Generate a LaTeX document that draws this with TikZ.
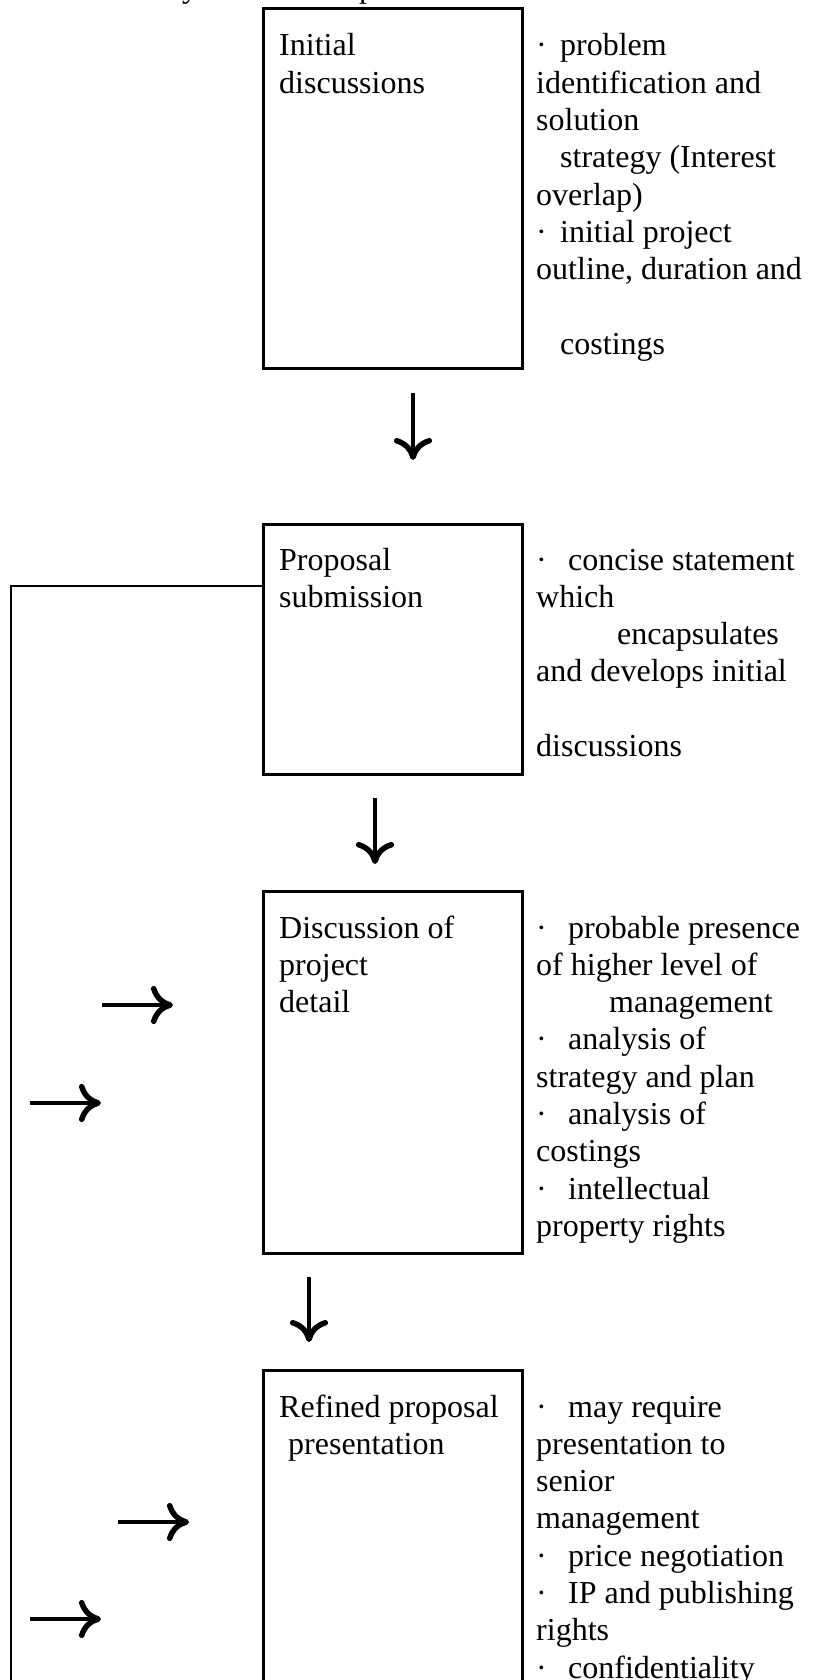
\documentclass[tikz,border=0pt]{standalone}
\usepackage{fontspec}
\setmainfont{Liberation Serif}
\usetikzlibrary{arrows.meta}
\newcommand\Ln[1]{\hbox{#1}}
\newcommand\bul[1]{\makebox[#1][l]{·}}
\begin{document}
\begin{tikzpicture}[x=1pt,y=-1pt,
  box/.style={draw, line width=2.6pt, anchor=north west, inner sep=0pt, minimum width=259pt},
  txt/.style={anchor=base west, inner sep=0pt, font=\fontsize{32}{37.3}\selectfont},
  rule/.style={line width=2.6pt},
  arr/.style={line width=3.5pt, -{Computer Modern Rightarrow[length=22pt,width=38pt,line width=5.5pt]}}]
\fill[white] (0,0) rectangle (819,1680);
\useasboundingbox (0,0) rectangle (819,1680);

% cut-off text at the top
\node[txt] (t1) at (182,-2) {y};
\node[txt] (t2) at (359,-2) {p};

% boxes
\node[box, minimum height=360pt] (b1) at (262,7) {};
\node[box, minimum height=250pt] (b2) at (262,523) {};
\node[box, minimum height=362pt] (b3) at (262,890) {};
\node[box, minimum height=340pt] (b4) at (262,1369) {};

% labels in boxes
\node[txt] (l1) at (279,56) {\vtop{\Ln{Initial}\Ln{discussions}}};
\node[txt] (l2) at (279,570) {\vtop{\Ln{Proposal}\Ln{submission}}};
\node[txt] (l3) at (279,938) {\vtop{\Ln{Discussion of}\Ln{project}\Ln{detail}}};
\node[txt] (l4) at (279,1417) {\vtop{\Ln{Refined proposal}\Ln{\hspace*{9pt}presentation}}};

% notes
\node[txt] (n1) at (536,56) {\vtop{%
  \Ln{\bul{24pt}problem}
  \Ln{identification and}
  \Ln{solution}
  \Ln{\hspace*{24pt}strategy (Interest}
  \Ln{overlap)}
  \Ln{\bul{24pt}initial project}
  \Ln{outline, duration and}
  \Ln{}
  \Ln{\hspace*{24pt}costings}}};
\node[txt] (n2) at (536,570) {\vtop{%
  \Ln{\bul{32pt}concise statement}
  \Ln{which}
  \Ln{\hspace*{81pt}encapsulates}
  \Ln{and develops initial}
  \Ln{}
  \Ln{discussions}}};
\node[txt] (n3) at (536,938) {\vtop{%
  \Ln{\bul{32pt}probable presence}
  \Ln{of higher level of}
  \Ln{\hspace*{73pt}management}
  \Ln{\bul{32pt}analysis of}
  \Ln{strategy and plan}
  \Ln{\bul{32pt}analysis of}
  \Ln{costings}
  \Ln{\bul{32pt}intellectual}
  \Ln{property rights}}};
\node[txt] (n4) at (536,1417) {\vtop{%
  \Ln{\bul{32pt}may require}
  \Ln{presentation to}
  \Ln{senior}
  \Ln{management}
  \Ln{\bul{32pt}price negotiation}
  \Ln{\bul{32pt}IP and publishing}
  \Ln{rights}
  \Ln{\bul{32pt}confidentiality}}};

% feedback line on the left
\coordinate (lc) at (11,1700);
\draw[rule] (b2.west |- 0,586) -| (lc);

% down arrows
\coordinate (d1s) at (413,393); \coordinate (d1e) at (413,460);
\coordinate (d2s) at (375,798); \coordinate (d2e) at (375,864);
\coordinate (d3s) at (309,1277); \coordinate (d3e) at (309,1342);
\draw[arr] (d1s) -- (d1e);
\draw[arr] (d2s) -- (d2e);
\draw[arr] (d3s) -- (d3e);

% right arrows
\coordinate (r1s) at (102,1005); \coordinate (r1e) at (173,1005);
\coordinate (r2s) at (30,1103);  \coordinate (r2e) at (101,1103);
\coordinate (r3s) at (118,1522); \coordinate (r3e) at (189,1522);
\coordinate (r4s) at (30,1619);  \coordinate (r4e) at (101,1619);
\draw[arr] (r1s) -- (r1e);
\draw[arr] (r2s) -- (r2e);
\draw[arr] (r3s) -- (r3e);
\draw[arr] (r4s) -- (r4e);
\end{tikzpicture}
\end{document}
